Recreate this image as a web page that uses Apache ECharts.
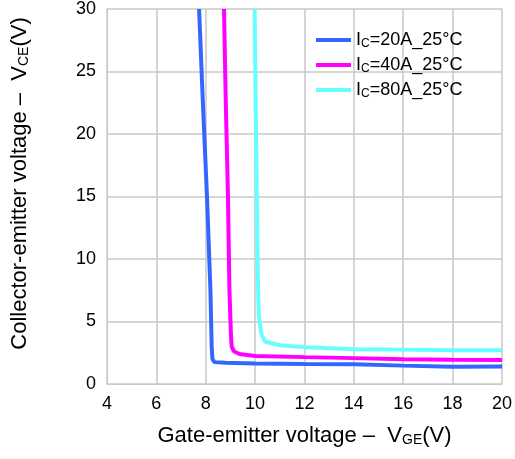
<!DOCTYPE html>
<html>
<head>
<meta charset="utf-8">
<script src="https://cdn.jsdelivr.net/npm/echarts@6/dist/echarts.min.js"></script>
<style>html,body{margin:0;padding:0;background:#fff;}#c{width:515px;height:459px;}</style>
</head>
<body>
<div id="c"></div>
<script>
var xTicks = [4, 6, 8, 10, 12, 14, 16, 18, 20];
var yTicks = [0, 5, 10, 15, 20, 25, 30];
var seriesNames = ['IC=20A_25°C', 'IC=40A_25°C', 'IC=80A_25°C'];

var vge20 = [7.73, 7.88, 8.05, 8.19, 8.24, 8.27, 8.35, 8.8, 10, 12, 14, 16, 18, 20];
var vce20 = [30, 22.7, 15, 7.5, 3.0, 2.0, 1.75, 1.7, 1.64, 1.6, 1.58, 1.47, 1.38, 1.4];

var vge40 = [8.74, 8.81, 8.9, 8.96, 9.02, 9.05, 9.15, 9.37, 10, 12, 14, 16, 18, 20];
var vce40 = [30, 22.7, 15, 7.5, 4.0, 3.0, 2.6, 2.4, 2.24, 2.15, 2.07, 1.98, 1.94, 1.93];

var vge80 = [9.98, 10.02, 10.07, 10.12, 10.15, 10.25, 10.4, 11, 12, 14, 16, 18, 20];
var vce80 = [30, 22.7, 15, 7.5, 5.5, 4.0, 3.4, 3.1, 2.95, 2.78, 2.75, 2.7, 2.7];

function pairs(xs, ys) { return xs.map(function (x, i) { return [x, ys[i]]; }); }

var colors = ['#3366ff', '#ff00ff', '#66ffff'];
var font = 'Liberation Sans, Arial, sans-serif';

var chart = echarts.init(document.getElementById('c'), null, {renderer: 'canvas'});
chart.setOption({
  animation: false,
  backgroundColor: '#ffffff',
  color: colors,
  grid: {left: 107, right: 12, top: 9, bottom: 75, containLabel: false},
  legend: {
    orient: 'vertical',
    left: 311,
    top: 26,
    icon: 'rect',
    itemWidth: 35,
    itemHeight: 4,
    itemGap: 6,
    data: seriesNames,
    formatter: function (name) {
      return '{a|I}{b|C}{a|' + name.slice(2) + '}';
    },
    textStyle: {
      fontFamily: font,
      color: '#000',
      rich: {
        a: {fontSize: 18, fontFamily: font, color: '#000', lineHeight: 20},
        b: {fontSize: 12, fontFamily: font, color: '#000', verticalAlign: 'bottom', padding: [7, 0, 0, 0], lineHeight: 20}
      }
    }
  },
  xAxis: {
    type: 'value',
    min: 4, max: 20, interval: 2,
    name: '{a|Gate-emitter voltage –  V}{b|GE}{a|(V)}',
    nameLocation: 'middle',
    nameGap: 40,
    nameTextStyle: {
      rich: {
        a: {fontSize: 22, fontFamily: font, color: '#000'},
        b: {fontSize: 14, fontFamily: font, color: '#000', verticalAlign: 'bottom', padding: [9, 0, 0, 0]}
      }
    },
    axisLine: {show: true, lineStyle: {color: '#c8c8c8', width: 1}},
    axisTick: {show: false},
    axisLabel: {fontSize: 18, fontFamily: font, color: '#000', margin: 11,
      formatter: function (v) { return xTicks.indexOf(v) >= 0 ? String(v) : ''; }},
    splitLine: {show: true, lineStyle: {color: '#c8c8c8', width: 1.5}}
  },
  yAxis: {
    type: 'value',
    min: 0, max: 30, interval: 5,
    name: '{a|Collector-emitter voltage –  V}{b|CE}{a|(V)}',
    nameLocation: 'middle',
    nameGap: 76,
    nameRotate: 90,
    nameTextStyle: {
      padding: [0, 0, 0, 26],
      rich: {
        a: {fontSize: 22, fontFamily: font, color: '#000'},
        b: {fontSize: 14, fontFamily: font, color: '#000', verticalAlign: 'bottom', padding: [9, 0, 0, 0]}
      }
    },
    axisLine: {show: true, lineStyle: {color: '#c8c8c8', width: 1}},
    axisTick: {show: false},
    axisLabel: {fontSize: 18, fontFamily: font, color: '#000', margin: 11,
      formatter: function (v) { return yTicks.indexOf(v) >= 0 ? String(v) : ''; }},
    splitLine: {show: true, lineStyle: {color: '#c8c8c8', width: 1.5}}
  },
  series: [
    {name: seriesNames[0], type: 'line', data: pairs(vge20, vce20), showSymbol: false, symbol: 'none',
      lineStyle: {width: 4, color: colors[0]}, itemStyle: {color: colors[0]}},
    {name: seriesNames[1], type: 'line', data: pairs(vge40, vce40), showSymbol: false, symbol: 'none',
      lineStyle: {width: 4, color: colors[1]}, itemStyle: {color: colors[1]}},
    {name: seriesNames[2], type: 'line', data: pairs(vge80, vce80), showSymbol: false, symbol: 'none',
      lineStyle: {width: 4, color: colors[2]}, itemStyle: {color: colors[2]}}
  ]
});
</script>
</body>
</html>
